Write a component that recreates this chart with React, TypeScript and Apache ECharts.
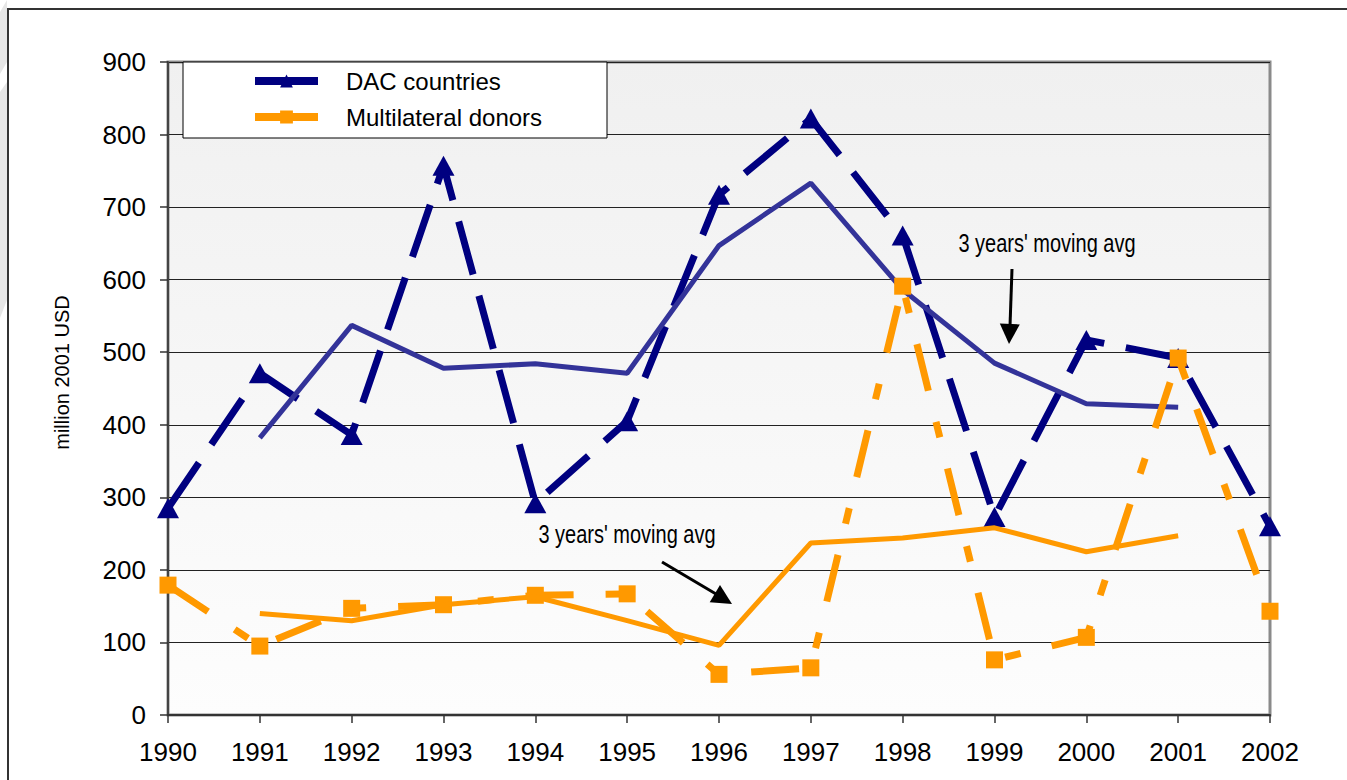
import React, { useEffect, useRef } from "react";
import * as echarts from "echarts";

const years = ["1990","1991","1992","1993","1994","1995","1996","1997","1998","1999","2000","2001","2002"];
const dacValues = [285, 471, 386, 757, 292, 405, 717, 822, 661, 273, 517, 492, 260];
const multiValues = [179, 95, 147, 152, 165, 167, 56, 65, 591, 76, 107, 492, 143];
const dacAvg: (number | null)[] = [null, 382, 537, 478, 484, 471, 647, 733, 586, 485, 429, 424, null];
const multiAvg: (number | null)[] = [null, 140, 130, 152, 163, 130, 96, 237, 244, 258, 225, 247, null];
const annotationText = "3 years' moving avg";
const yAxisTitle = "million 2001 USD";

const FONT = "'Liberation Sans', Arial, sans-serif";
const NAVY = "#000080";
const AVG_BLUE = "#333399";
const ORANGE = "#FF9900";

export default function App() {
  const ref = useRef<HTMLDivElement>(null);
  useEffect(() => {
    document.body.style.margin = "0";
    const chart = echarts.init(ref.current!, undefined, { renderer: "svg" });
    chart.setOption({
      animation: false,
      backgroundColor: "#ffffff",
      grid: {
        left: 168,
        right: 77,
        top: 62,
        bottom: 65,
        show: true,
        borderColor: "#8a8a8a",
        borderWidth: 3,
        backgroundColor: new echarts.graphic.LinearGradient(0, 0, 0, 1, [
          { offset: 0, color: "#f0f0f0" },
          { offset: 1, color: "#fdfdfd" },
        ]),
      },
      legend: {
        orient: "vertical",
        left: 246,
        top: 62,
        itemWidth: 63,
        itemHeight: 16,
        itemGap: 8,
        z: 6,
        data: [
          { name: "DAC countries", lineStyle: { type: "solid", width: 8 } },
          { name: "Multilateral donors", lineStyle: { type: "solid", width: 8 } },
        ],
        textStyle: {
          fontFamily: FONT,
          fontSize: 24,
          lineHeight: 28,
          color: "#000",
          padding: [0, 0, 0, 23],
        },
      },
      xAxis: {
        type: "category",
        data: years,
        boundaryGap: false,
        axisLine: { show: true, lineStyle: { color: "#333", width: 2 } },
        axisTick: { show: true, length: 8, lineStyle: { color: "#333", width: 1.5 } },
        axisLabel: { fontFamily: FONT, fontSize: 26, color: "#000", margin: 24 },
        splitLine: { show: false },
      },
      yAxis: {
        type: "value",
        min: 0,
        max: 900,
        interval: 100,
        name: yAxisTitle,
        nameLocation: "middle",
        nameGap: 96,
        nameTextStyle: { fontFamily: FONT, fontSize: 20, color: "#000", padding: [0, 0, 0, 32] },
        axisLine: { show: true, lineStyle: { color: "#444", width: 2 } },
        axisTick: { show: true, length: 8, lineStyle: { color: "#333", width: 1.5 } },
        axisLabel: { fontFamily: FONT, fontSize: 26, color: "#000", margin: 22 },
        splitLine: { show: true, lineStyle: { color: "#222", width: 1 } },
      },
      series: [
        {
          name: "DAC countries",
          type: "line",
          data: dacValues,
          symbol: "triangle",
          symbolSize: [22, 20],
          itemStyle: { color: NAVY },
          lineStyle: { color: NAVY, width: 7, type: [55, 22] },
          z: 2,
        },
        {
          name: "DAC avg",
          type: "line",
          data: dacAvg,
          symbol: "none",
          lineStyle: { color: AVG_BLUE, width: 5 },
          z: 3,
        },
        {
          name: "Multilateral donors",
          type: "line",
          data: multiValues,
          symbol: "rect",
          symbolSize: 17,
          itemStyle: { color: ORANGE },
          lineStyle: { color: ORANGE, width: 7, type: [48, 32, 16, 32] },
          z: 4,
        },
        {
          name: "Multilateral avg",
          type: "line",
          data: multiAvg,
          symbol: "none",
          lineStyle: { color: ORANGE, width: 5 },
          z: 5,
        },
      ],
      graphic: [
        {
          type: "rect",
          z: 5,
          shape: { x: 0, y: 9, width: 1400, height: 800 },
          style: { fill: "none", stroke: "#333", lineWidth: 2 },
          x: 8,
          y: 0,
        },
        {
          type: "polygon",
          z: 1,
          shape: { points: [[0, 12], [7, 0], [7, 62], [0, 74]] },
          style: { fill: "#e6e6e6" },
        },
        {
          type: "polygon",
          z: 1,
          shape: { points: [[0, 92], [7, 82], [7, 300], [0, 318]] },
          style: { fill: "#e6e6e6" },
        },
        {
          type: "rect",
          z: 5,
          shape: { x: 183, y: 62, width: 424, height: 76 },
          style: { fill: "#ffffff", stroke: "#000", lineWidth: 1 },
        },
        {
          type: "text",
          z: 6,
          x: 1047,
          y: 244,
          scaleX: 0.8,
          style: {
            text: annotationText,
            fontFamily: FONT,
            fontSize: 25,
            fill: "#000",
            align: "center",
            verticalAlign: "middle",
          },
        },
        {
          type: "line",
          z: 6,
          shape: { x1: 1012, y1: 269, x2: 1010, y2: 326 },
          style: { stroke: "#000", lineWidth: 3 },
        },
        {
          type: "polygon",
          z: 6,
          shape: { points: [[999.8, 323.6], [1019.8, 324.4], [1009, 344]] },
          style: { fill: "#000" },
        },
        {
          type: "text",
          z: 6,
          x: 627,
          y: 535,
          scaleX: 0.8,
          style: {
            text: annotationText,
            fontFamily: FONT,
            fontSize: 25,
            fill: "#000",
            align: "center",
            verticalAlign: "middle",
          },
        },
        {
          type: "line",
          z: 6,
          shape: { x1: 662, y1: 562, x2: 716, y2: 594 },
          style: { stroke: "#000", lineWidth: 3 },
        },
        {
          type: "polygon",
          z: 6,
          shape: { points: [[709.7, 602.3], [720, 585.1], [732, 604]] },
          style: { fill: "#000" },
        },
      ],
    });
    return () => chart.dispose();
  }, []);
  return <div ref={ref} style={{ width: 1347, height: 780 }} />;
}
